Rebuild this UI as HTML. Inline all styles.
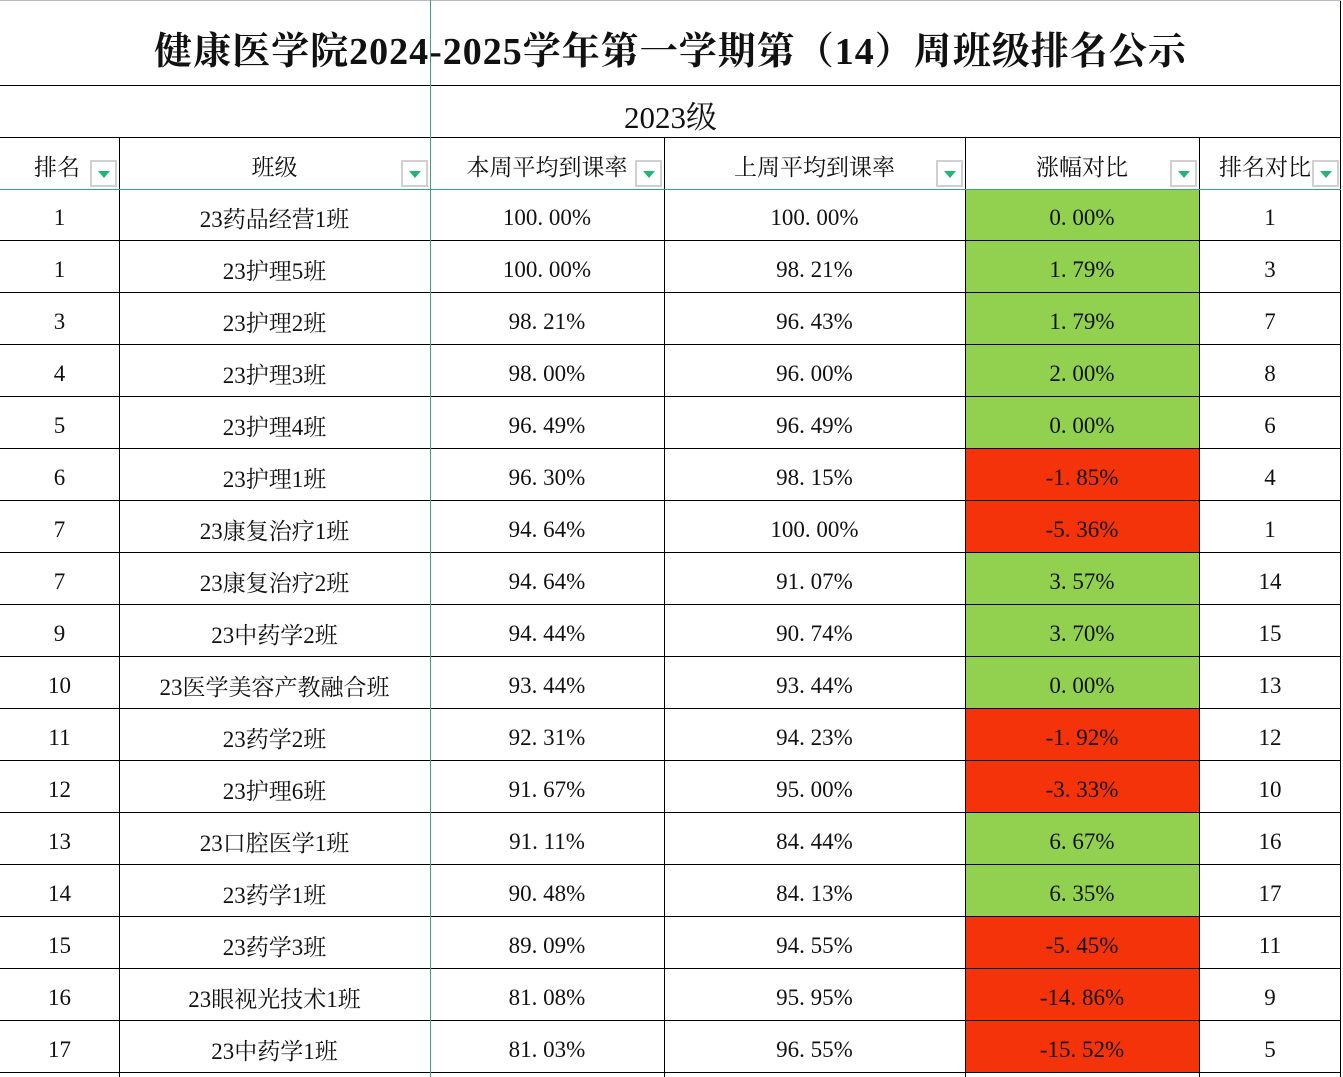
<!DOCTYPE html>
<html><head><meta charset="utf-8"><style>
body{margin:0;width:1343px;height:1077px;background:#fff;position:relative;overflow:hidden;font-family:"Liberation Serif","Noto Serif CJK SC",serif;color:#111}
.c{position:absolute;display:flex;align-items:center;justify-content:center;font-size:23px;box-sizing:border-box;padding-top:5px}
.h{position:absolute;background:#000}
.dd{position:absolute;width:27px;height:27px;border:2px solid #d0d0d0;box-sizing:border-box;background:#fff}
.dd:after{content:"";position:absolute;left:6px;top:9px;border-left:6px solid transparent;border-right:6px solid transparent;border-top:7px solid #22b573}
</style></head><body>
<div class="c" style="left:0;top:0;width:1341px;height:90px;font-size:38px;font-weight:bold;letter-spacing:1px;">健康医学院2024-2025学年第一学期第（14）周班级排名公示</div>
<div class="c" style="left:0;top:86px;width:1341px;height:52px;font-size:31px;padding-top:4px">2023级</div>
<div id="t"></div>
<script>
const xs=[0,119,430,664,965,1199,1341];
const hd=["排名","班级","本周平均到课率","上周平均到课率","涨幅对比","排名对比"];
const d=[["1","23药品经营1班","100.00%","100.00%","0.00%","1"],["1","23护理5班","100.00%","98.21%","1.79%","3"],["3","23护理2班","98.21%","96.43%","1.79%","7"],["4","23护理3班","98.00%","96.00%","2.00%","8"],["5","23护理4班","96.49%","96.49%","0.00%","6"],["6","23护理1班","96.30%","98.15%","-1.85%","4"],["7","23康复治疗1班","94.64%","100.00%","-5.36%","1"],["7","23康复治疗2班","94.64%","91.07%","3.57%","14"],["9","23中药学2班","94.44%","90.74%","3.70%","15"],["10","23医学美容产教融合班","93.44%","93.44%","0.00%","13"],["11","23药学2班","92.31%","94.23%","-1.92%","12"],["12","23护理6班","91.67%","95.00%","-3.33%","10"],["13","23口腔医学1班","91.11%","84.44%","6.67%","16"],["14","23药学1班","90.48%","84.13%","6.35%","17"],["15","23药学3班","89.09%","94.55%","-5.45%","11"],["16","23眼视光技术1班","81.08%","95.95%","-14.86%","9"],["17","23中药学1班","81.03%","96.55%","-15.52%","5"]];
let h="";
for(let i=0;i<6;i++){
 let w=xs[i+1]-xs[i];
 h+=`<div class="c" style="left:${xs[i]}px;top:138px;width:${w}px;height:51px;overflow:hidden;white-space:nowrap;padding-top:3px;${i==0?'justify-content:flex-start;padding-left:34px':''}${i==5?'justify-content:flex-start;padding-left:20px':''}">${hd[i]}</div>`;
 h+=`<div class="dd" style="left:${xs[i+1]-29}px;top:160px"></div>`;
}
d.forEach((r,j)=>{let y=189+52*j;
 for(let i=0;i<6;i++){let w=xs[i+1]-xs[i];let bg="";
  if(i==4)bg=r[4].startsWith("-")?"background:#f5330b;":"background:#92d050;";
  h+=`<div class="c" style="left:${xs[i]}px;top:${y}px;width:${w}px;height:52px;${bg}">${r[i].replace(/\./,'. ')}</div>`;}
});
h+=`<div class="h" style="left:0;top:85px;width:1341px;height:1px"></div>`;
h+=`<div class="h" style="left:0;top:137px;width:1341px;height:1px"></div>`;
for(let j=1;j<=17;j++)h+=`<div class="h" style="left:0;top:${189+52*j-1}px;width:1341px;height:1px"></div>`;
for(let i=1;i<6;i++)h+=`<div class="h" style="left:${xs[i]}px;top:137px;width:1px;height:940px"></div>`;
h+=`<div class="h" style="left:1340px;top:0;width:1px;height:1077px"></div>`;
h+=`<div style="position:absolute;left:0;top:0;width:1341px;height:1px;background:#b8bcc8"></div>`;
h+=`<div style="position:absolute;left:0;top:189px;width:1341px;height:1px;background:#3aa57a"></div>`;
h+=`<div style="position:absolute;left:430px;top:0;width:1px;height:1077px;background:#3aa57a"></div>`;
document.getElementById("t").innerHTML=h;
</script>
</body></html>
